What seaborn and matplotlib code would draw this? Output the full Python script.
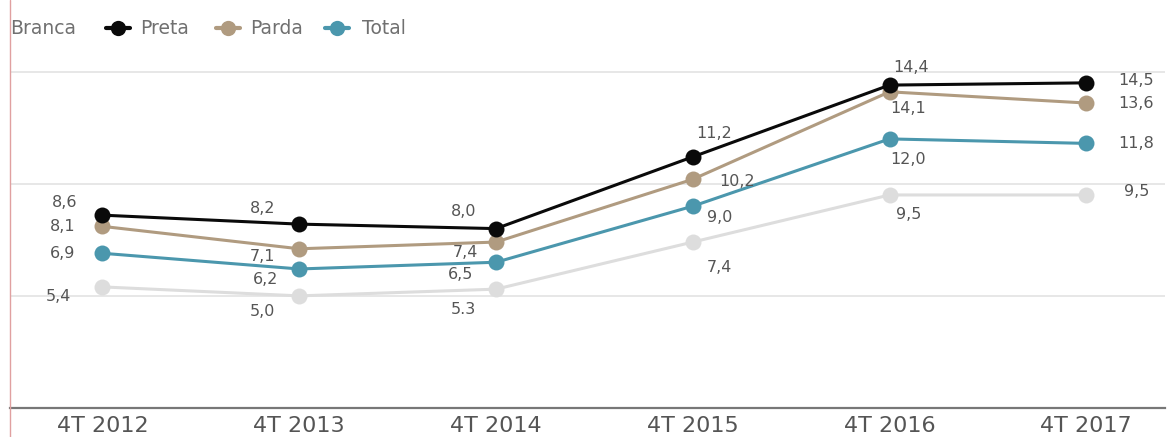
import matplotlib
matplotlib.use("Agg")
import matplotlib.pyplot as plt
from matplotlib.lines import Line2D
import seaborn as sns
import pandas as pd

periods = ["4T 2012", "4T 2013", "4T 2014", "4T 2015", "4T 2016", "4T 2017"]
branca = [5.4, 5.0, 5.3, 7.4, 9.5, 9.5]
preta = [8.6, 8.2, 8.0, 11.2, 14.4, 14.5]
parda = [8.1, 7.1, 7.4, 10.2, 14.1, 13.6]
total = [6.9, 6.2, 6.5, 9.0, 12.0, 11.8]
branca_labels = ["5,4", "5,0", "5.3", "7,4", "9,5", "9,5"]

series = {"Branca": branca, "Preta": preta, "Parda": parda, "Total": total}
colors = {"Branca": "#dddddd", "Preta": "#0a0a0a", "Parda": "#b09b80", "Total": "#4b97ad"}

rows = []
for name, vals in series.items():
    for i, v in enumerate(vals):
        rows.append({"idx": i, "valor": v, "grupo": name})
df = pd.DataFrame(rows)

sns.set_theme(style="white")
plt.rcParams["font.family"] = ["DejaVu Sans"]

W, H = 1168, 437
fig = plt.figure(figsize=(W / 100, H / 100), dpi=100)
ax = fig.add_axes([10 / W, 29 / H, 1155 / W, 370 / H])

sns.lineplot(data=df, x="idx", y="valor", hue="grupo", palette=colors,
             hue_order=["Branca", "Total", "Parda", "Preta"],
             marker="o", markersize=11.5, markeredgewidth=0, linewidth=2.2,
             legend=False, ax=ax)

ax.set_xlim(-0.47, 5.4)
ax.set_ylim(0, 16.5)
ax.set_yticks([5, 10, 15])
ax.set_yticklabels([])
ax.tick_params(axis="y", length=0)
ax.grid(axis="y", color="#e3e3e3", linewidth=1.2)
for s in ["top", "right", "left"]:
    ax.spines[s].set_visible(False)
ax.spines["bottom"].set_color("#777777")
ax.spines["bottom"].set_linewidth(1.6)
ax.set_xticks(range(len(periods)))
ax.set_xticklabels(periods, fontsize=16, color="#555555")
ax.tick_params(axis="x", length=3, color="#cccccc", pad=3)
ax.set_xlabel("")
ax.set_ylabel("")

# value labels: offsets in pixels from each marker
offsets = {
    "Preta": [(-38, 13), (-37, 16), (-32, 17), (21, 23), (22, 18), (50, 2)],
    "Parda": [(-40, 0), (-37, -8), (-31, -10), (44, -2), (19, -17), (50, 0)],
    "Total": [(-40, 0), (-34, -11), (-35, -12), (27, -11), (19, -21), (50, 0)],
    "Branca": [(-44, -10), (-37, -16), (-33, -20), (27, -25), (19, -20), (50, 3)],
}
for name, vals in series.items():
    texts = branca_labels if name == "Branca" else [f"{v:.1f}".replace(".", ",") for v in vals]
    for i, (v, t) in enumerate(zip(vals, texts)):
        dx, dy = offsets[name][i]
        ax.annotate(t, (i, v), xytext=(dx, dy), textcoords="offset pixels",
                    ha="center", va="center", fontsize=11.5, color="#555555")

# legend row across the top; the first marker lies beyond the left edge
legend_y = 1 - 28 / H
legend_items = [("Branca", -15, 10), ("Preta", 118, 140), ("Parda", 228, 250), ("Total", 337, 362)]
for name, mx, tx in legend_items:
    fig.add_artist(Line2D([(mx - 12) / W, (mx + 12) / W], [legend_y, legend_y],
                          transform=fig.transFigure, color=colors[name], linewidth=3))
    fig.add_artist(Line2D([mx / W], [legend_y], transform=fig.transFigure,
                          color=colors[name], marker="o", markersize=11, markeredgewidth=0))
    fig.text(tx / W, legend_y, name, ha="left", va="center", fontsize=13.5, color="#707070")

fig.add_artist(Line2D([10 / W, 10 / W], [0, 1], transform=fig.transFigure,
                      color="#e0a0a0", linewidth=1))

fig.savefig("out.png", dpi=100, facecolor="white")
